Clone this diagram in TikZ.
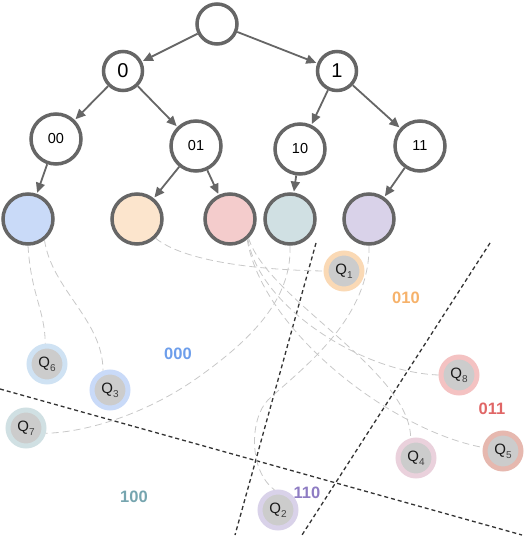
\documentclass[tikz,border=0pt]{standalone}
\usepackage{fontspec}
\setmainfont{Liberation Sans}
\usetikzlibrary{arrows.meta}
\definecolor{treegray}{HTML}{666666}
\definecolor{leafblue}{HTML}{C9DAF8}
\definecolor{leaforange}{HTML}{FCE5CD}
\definecolor{leafred}{HTML}{F4CCCC}
\definecolor{leafteal}{HTML}{D0E0E3}
\definecolor{leafpurple}{HTML}{D9D2E9}
\definecolor{ringone}{HTML}{FAD9B5}
\definecolor{ringsix}{HTML}{CFE2F3}
\definecolor{ringthree}{HTML}{C9DAF8}
\definecolor{ringseven}{HTML}{D0E0E3}
\definecolor{ringeight}{HTML}{F4C2C2}
\definecolor{ringfive}{HTML}{E6B8AF}
\definecolor{ringfour}{HTML}{EAD1DC}
\definecolor{ringtwo}{HTML}{D9D2E9}
\definecolor{qgray}{HTML}{CCCCCC}
\definecolor{qtext}{HTML}{1A1A1A}
\definecolor{linkgray}{HTML}{C8C8C8}
\definecolor{cutgray}{HTML}{333333}
\definecolor{labblue}{HTML}{6D9EEB}
\definecolor{laborange}{HTML}{F6B26B}
\definecolor{labred}{HTML}{E06666}
\definecolor{labteal}{HTML}{76A5AF}
\definecolor{labpurple}{HTML}{8E7CC3}
\newcommand{\qlab}[1]{Q\kern0.2pt\raisebox{-4pt}{\fontsize{10}{10}\selectfont\color{darkgray}#1}}
\begin{document}
\begin{tikzpicture}[x=1pt,y=-1pt,
  tnode/.style={circle,draw=treegray,line width=3.5pt,fill=white,minimum size=#1,inner sep=0pt},
  leaf/.style={circle,draw=treegray,line width=3.5pt,fill=#1,minimum size=50pt,inner sep=0pt},
  arr/.style={draw=treegray,line width=1.8pt,-{Triangle[length=10pt,width=9pt]},shorten >=1pt},
  qn/.style={circle,draw=#1,line width=5pt,fill=qgray,minimum size=36pt,inner sep=0pt,font=\fontsize{15}{15}\selectfont,text=qtext},
  link/.style={draw=linkgray,line width=0.8pt,dash pattern=on 7pt off 4pt},
  cut/.style={draw=cutgray,line width=1.3pt,dash pattern=on 4pt off 3pt},
  reg/.style={font=\bfseries\fontsize{16.5}{18}\selectfont,text=#1}]
\useasboundingbox (0,0) rectangle (527,537);
% cut lines
\coordinate (a1) at (0,389);
\coordinate (a2) at (522,535);
\coordinate (b1) at (316,243);
\coordinate (b2) at (235,535);
\coordinate (c1) at (490,243);
\coordinate (c2) at (302,535);
\draw[cut] (a1) -- (a2);
\draw[cut] (b1) -- (b2);
\draw[cut] (c1) -- (c2);
% tree
\node[tnode=40pt] (root) at (217,24) {};
\node[tnode=39pt,font=\fontsize{20}{20}\selectfont] (n0) at (123,71) {0};
\node[tnode=39pt,font=\fontsize{20}{20}\selectfont] (n1) at (337,71) {1};
\node[tnode=50pt,font=\fontsize{14.5}{14.5}\selectfont] (n00) at (56,139) {00};
\node[tnode=50pt,font=\fontsize{14.5}{14.5}\selectfont] (n01) at (196,146) {01};
\node[tnode=50pt,font=\fontsize{14.5}{14.5}\selectfont] (n10) at (300,149) {10};
\node[tnode=50pt,font=\fontsize{14.5}{14.5}\selectfont] (n11) at (420,146) {11};
\node[leaf=leafblue] (lb) at (28,219) {};
\node[leaf=leaforange] (lo) at (137,219) {};
\node[leaf=leafred] (lr) at (230,219) {};
\node[leaf=leafteal] (lt) at (290,219) {};
\node[leaf=leafpurple] (lp) at (369,219) {};
\draw[arr] (root) -- (n0);
\draw[arr] (root) -- (n1);
\draw[arr] (n0) -- (n00);
\draw[arr] (n0) -- (n01);
\draw[arr] (n1) -- (n10);
\draw[arr] (n1) -- (n11);
\draw[arr] (n00) -- (lb);
\draw[arr] (n01) -- (lo);
\draw[arr] (n01) -- (lr);
\draw[arr] (n10) -- (lt);
\draw[arr] (n11) -- (lp);
% Q nodes
\node[qn=ringone] (q1) at (344,271) {\qlab{1}};
\node[qn=ringsix] (q6) at (47,364) {\qlab{6}};
\node[qn=ringthree] (q3) at (110,390) {\qlab{3}};
\node[qn=ringseven] (q7) at (26,428) {\qlab{7}};
\node[qn=ringeight] (q8) at (459,375) {\qlab{8}};
\node[qn=ringfive] (q5) at (503,451) {\qlab{5}};
\node[qn=ringfour] (q4) at (416,458) {\qlab{4}};
\node[qn=ringtwo] (q2) at (278,510) {\qlab{2}};
% links
\draw[link] (lb.south) .. controls (31,295) and (45,310) .. (q6.95);
\draw[link] (lb.-52) .. controls (52,290) and (103,320) .. (q3.110);
\draw[link] (lo.-46) .. controls (185,262) and (260,270) .. (q1.west);
\draw[link] (lr.-48) .. controls (258,305) and (360,372) .. (q8.west);
\draw[link] (lr.-50) .. controls (262,330) and (390,430) .. (q5.170);
\draw[link] (lr.-46) .. controls (268,300) and (410,370) .. (q4.105);
\draw[link] (lt.south) .. controls (292,300) and (250,340) .. (200,376) .. controls (150,412) and (90,432) .. (q7.-15);
\draw[link] (lp.south) .. controls (370,320) and (300,370) .. (268,400) .. controls (250,418) and (248,470) .. (q2.100);
% region labels
\node[reg=labblue] (r000) at (178,354) {000};
\node[reg=laborange] (r010) at (406,298) {010};
\node[reg=labred] (r011) at (492,409) {011};
\node[reg=labteal] (r100) at (134,497) {100};
\node[reg=labpurple] (r110) at (307,493) {110};
\end{tikzpicture}
\end{document}
